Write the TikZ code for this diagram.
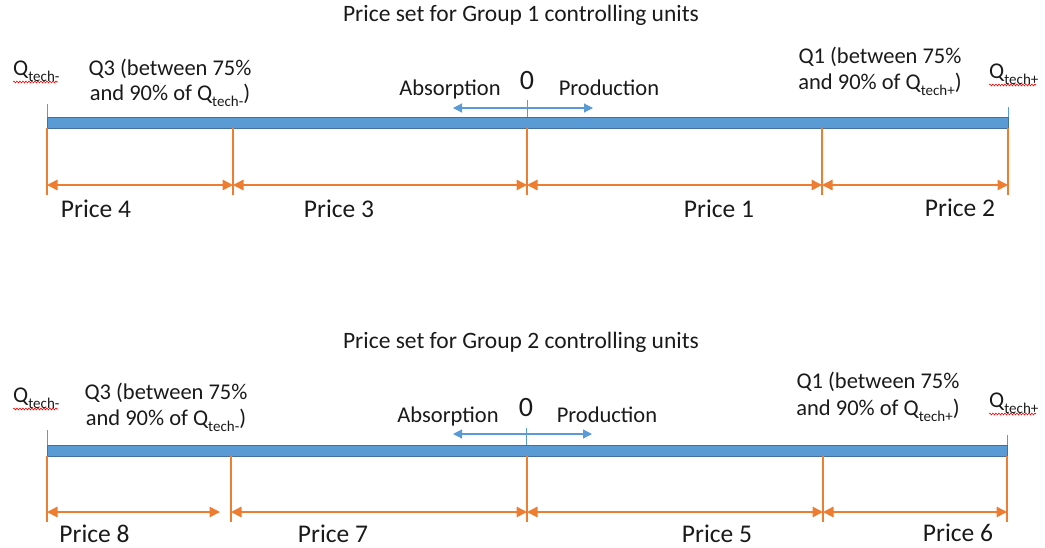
\documentclass[tikz,border=0pt]{standalone}
\usepackage{fontspec}
\setmainfont{Carlito}
\usetikzlibrary{arrows.meta,decorations.pathmorphing}
\definecolor{barblue}{HTML}{5B9BD5}
\definecolor{barborder}{HTML}{41719C}
\definecolor{orng}{HTML}{ED7D31}
\definecolor{txtc}{HTML}{1A1A1A}
\newcommand\tsub[1]{\raisebox{-0.3em}{\fontsize{15}{15}\selectfont #1}}
\tikzset{
 txt/.style={inner sep=0pt, anchor=base, text=txtc, font=\fontsize{22.5}{25}\selectfont},
 ttl/.style={inner sep=0pt, anchor=base, text=txtc, font=\fontsize{23.5}{26}\selectfont},
 pricelbl/.style={inner sep=0pt, anchor=base, text=txtc, font=\fontsize{25.5}{28}\selectfont},
 zerolbl/.style={inner sep=0pt, anchor=base, text=txtc, font=\fontsize{28}{30}\selectfont},
 bar/.style={fill=barblue, draw=barborder, line width=1pt},
 otick/.style={draw=orng, line width=1.2pt},
 btick/.style={draw=barblue, line width=1pt},
 parrow/.style={draw=orng, line width=1.5pt, {Triangle[length=10.5pt,width=10.5pt]}-{Triangle[length=10.5pt,width=10.5pt]}},
 barrow/.style={draw=barblue, line width=1.2pt, {Triangle[length=9pt,width=9pt]}-{Triangle[length=9pt,width=9pt]}},
 spell/.style={draw=red, line width=0.6pt, decorate, decoration={snake, segment length=3pt, amplitude=0.9pt}}
}
\begin{document}
\begin{tikzpicture}[x=1pt,y=-1pt]
\useasboundingbox (0,0) rectangle (1045,547);
% ================= Group 1 =================
\node[ttl] (title1) at (521,21) {Price set for Group 1 controlling units};
\path[bar] (47,117) rectangle (1008,128);
\foreach \n/\x in {a/47,b/233,c/527,d/822,e/1008}{
  \coordinate (g1\n top) at (\x,128);
  \coordinate (g1\n bot) at (\x,195);
  \coordinate (g1\n arr) at (\x,185);
}
\foreach \n in {a,b,c,d,e}{ \draw[otick] (g1\n top) -- (g1\n bot); }
\draw[parrow] (g1aarr) -- (g1barr);
\draw[parrow] (g1barr) -- (g1carr);
\draw[parrow] (g1carr) -- (g1darr);
\draw[parrow] (g1darr) -- (g1earr);
\coordinate (g1lt) at (47,104);   \coordinate (g1lb) at (47,117);
\coordinate (g1rt) at (1008,107); \coordinate (g1rb) at (1008,117);
\coordinate (g1mt) at (527.5,100); \coordinate (g1mb) at (527.5,117);
\coordinate (g1al) at (453,108);  \coordinate (g1ar) at (593,108);
\draw[btick] (g1lt) -- (g1lb);
\draw[btick] (g1rt) -- (g1rb);
\draw[btick] (g1mt) -- (g1mb);
\draw[barrow] (g1al) -- (g1ar);
\node[txt,anchor=base west] (qm1) at (13,75) {Q\tsub{tech-}};
\node[txt] (q3a1) at (170,75) {Q3 (between 75\%};
\node[txt] (q3b1) at (170,100) {and 90\% of Q\tsub{tech-})};
\node[txt] (q1a1) at (880,63) {Q1 (between 75\%};
\node[txt] (q1b1) at (880,89) {and 90\% of Q\tsub{tech+})};
\node[txt,anchor=base west] (qp1) at (989,78) {Q\tsub{tech+}};
\node[txt] (ab1) at (450,95) {Absorption};
\node[zerolbl] (z1) at (527,89) {0};
\node[txt] (pr1) at (609,95) {Production};
\node[pricelbl] (p4) at (96,217) {Price 4};
\node[pricelbl] (p3) at (339,217) {Price 3};
\node[pricelbl] (p1) at (719,217) {Price 1};
\node[pricelbl] (p2) at (960,216) {Price 2};
\draw[spell] (13,82) -- (58,82);
\draw[spell] (989,85) -- (1036,85);
% ================= Group 2 =================
\node[ttl] (title2) at (521,348) {Price set for Group 2 controlling units};
\path[bar] (47,445) rectangle (1007,456);
\foreach \n/\x in {a/47,b/231,c/527,d/823,e/1007}{
  \coordinate (g2\n top) at (\x,456);
  \coordinate (g2\n bot) at (\x,522);
  \coordinate (g2\n arr) at (\x,512);
}
\coordinate (g2aend) at (220,512);
\foreach \n in {a,b,c,d,e}{ \draw[otick] (g2\n top) -- (g2\n bot); }
\draw[parrow] (g2aarr) -- (g2aend);
\draw[parrow] (g2barr) -- (g2carr);
\draw[parrow] (g2carr) -- (g2darr);
\draw[parrow] (g2darr) -- (g2earr);
\coordinate (g2lt) at (47,430);   \coordinate (g2lb) at (47,445);
\coordinate (g2rt) at (1007,435); \coordinate (g2rb) at (1007,445);
\coordinate (g2mt) at (526.5,428); \coordinate (g2mb) at (526.5,445);
\coordinate (g2al) at (453,434);  \coordinate (g2ar) at (592,434);
\draw[btick] (g2lt) -- (g2lb);
\draw[btick] (g2rt) -- (g2rb);
\draw[btick] (g2mt) -- (g2mb);
\draw[barrow] (g2al) -- (g2ar);
\node[txt,anchor=base west] (qm2) at (13,402) {Q\tsub{tech-}};
\node[txt] (q3a2) at (166,399) {Q3 (between 75\%};
\node[txt] (q3b2) at (166,425) {and 90\% of Q\tsub{tech-})};
\node[txt] (q1a2) at (878,388) {Q1 (between 75\%};
\node[txt] (q1b2) at (878,415) {and 90\% of Q\tsub{tech+})};
\node[txt,anchor=base west] (qp2) at (989,407) {Q\tsub{tech+}};
\node[txt] (ab2) at (448,422) {Absorption};
\node[zerolbl] (z2) at (526,416) {0};
\node[txt] (pr2) at (607,422) {Production};
\node[pricelbl] (p8) at (94.5,542) {Price 8};
\node[pricelbl] (p7) at (333,542) {Price 7};
\node[pricelbl] (p5) at (717,542) {Price 5};
\node[pricelbl] (p6) at (958,541) {Price 6};
\draw[spell] (13,409) -- (58,409);
\draw[spell] (989,414) -- (1036,414);
\end{tikzpicture}
\end{document}
